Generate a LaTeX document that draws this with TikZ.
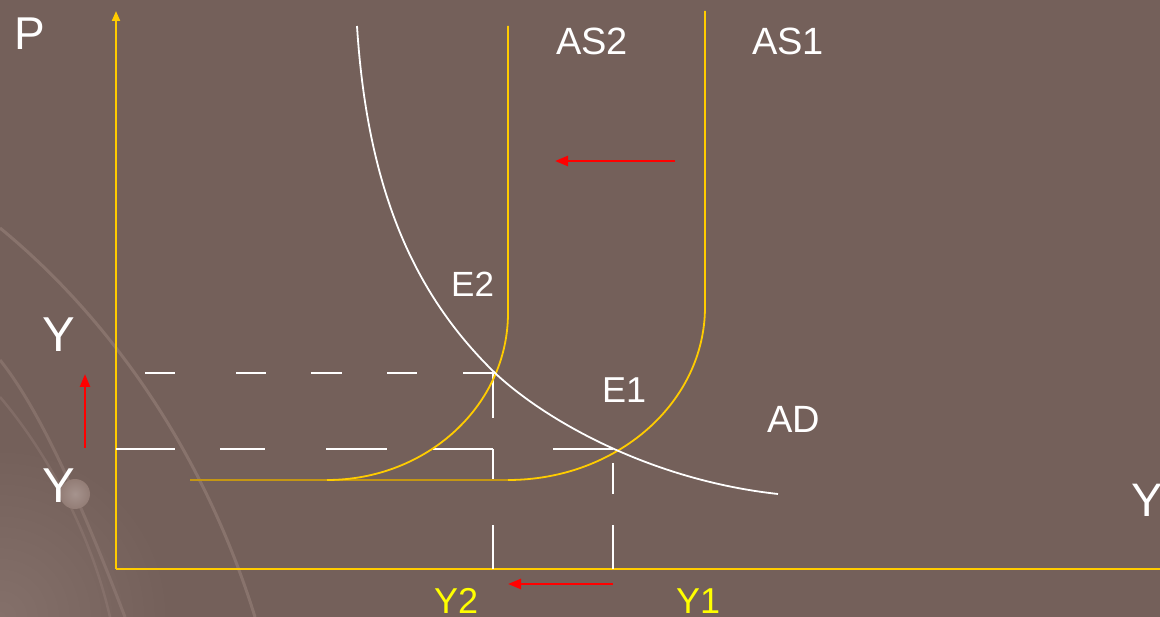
\documentclass[tikz,border=0pt]{standalone}
\usepackage{fontspec}
\setmainfont{Liberation Sans}
\usetikzlibrary{arrows.meta}
\definecolor{bgbrown}{RGB}{116,96,90}
\definecolor{asgold}{RGB}{255,204,0}
\definecolor{darkgold}{RGB}{196,150,20}
\definecolor{streak}{RGB}{150,128,121}
\definecolor{corner}{RGB}{132,112,106}
\definecolor{labelyellow}{RGB}{255,255,0}
\tikzset{
  axis/.style={asgold,line width=2pt},
  ascurve/.style={asgold,line width=1.8pt},
  guide/.style={white,line width=2pt},
  redarrow/.style={red,line width=2.4pt,-{Triangle[length=13pt,width=10pt]}},
  lbl/.style={white,inner sep=0pt,anchor=base west},
}
\begin{document}
\begin{tikzpicture}[x=1pt,y=-1pt]
  % background
  \fill[bgbrown] (0,0) rectangle (1160,617);
  \useasboundingbox (0,0) rectangle (1160,617);
  \shade[inner color=corner,outer color=bgbrown] (0,617) circle[radius=170];
  \draw[streak,line width=3pt,opacity=.6] (0,228) .. controls (100,310) and (200,440) .. (255,617);
  \draw[streak,line width=3pt,opacity=.5] (0,360) .. controls (40,410) and (80,500) .. (125,617);
  \draw[streak,line width=2.5pt,opacity=.4] (0,397) .. controls (45,450) and (90,530) .. (110,617);
  \shade[inner color=streak!85!white,outer color=streak!90!bgbrown] (75,494) circle[radius=15];
  % axes
  \coordinate (O) at (116,569);
  \coordinate (ptop) at (116,11);
  \coordinate (yend) at (1160,569);
  \draw[axis,-{Triangle[length=10pt,width=8pt]}] (O) -- (ptop);
  \draw[axis] (O) -- (yend);
  % dashed guides
  \foreach \a/\b in {145/175,236/266,311/342,387/417,463/493}
    \draw[guide] (\a,373) -- (\b,373);
  \foreach \a/\b in {116/175,220/265,326/387,433/493,553/613}
    \draw[guide] (\a,449) -- (\b,449);
  \foreach \a/\b in {373/418,449/480,525/569}
    \draw[guide] (493,\a) -- (493,\b);
  \foreach \a/\b in {463/494,525/569}
    \draw[guide] (613,\a) -- (613,\b);
  % supply curves
  \draw[darkgold,line width=1.8pt] (190,480) -- (508,480);
  \draw[ascurve] (508,26) -- (508,313) arc[start angle=0,end angle=90,x radius=181,y radius=167];
  \draw[ascurve] (705,11) -- (705,307) arc[start angle=0,end angle=90,x radius=197,y radius=173];
  % demand curve
  \coordinate (e2) at (495,373);
  \draw[white,line width=1.8pt] (357,26) .. controls (368,200) and (420,300) .. (e2)
    .. controls (545,420) and (650,480) .. (778,494);
  % shift arrows
  \coordinate (as1from) at (675,161);
  \coordinate (as2to) at (555,161);
  \draw[redarrow] (as1from) -- (as2to);
  \coordinate (plow) at (85,448);
  \coordinate (phigh) at (85,374);
  \draw[redarrow] (plow) -- (phigh);
  \coordinate (yone) at (613,584);
  \coordinate (ytwo) at (508,584);
  \draw[redarrow] (yone) -- (ytwo);
  % labels
  \node[lbl,font=\fontsize{46}{48}\selectfont] (P) at (14,50) {P};
  \node[lbl,font=\fontsize{38}{40}\selectfont] (AS2) at (556,55) {AS2};
  \node[lbl,font=\fontsize{38}{40}\selectfont] (AS1) at (752,55) {AS1};
  \node[lbl,font=\fontsize{35}{37}\selectfont] (E2) at (451,297) {E2};
  \node[lbl,font=\fontsize{36}{38}\selectfont] (E1) at (602,403) {E1};
  \node[lbl,font=\fontsize{38}{40}\selectfont] (AD) at (767,433) {AD};
  \node[lbl,font=\fontsize{49}{51}\selectfont] (Ptwo) at (42,352) {Y};
  \node[lbl,font=\fontsize{49}{51}\selectfont] (Pone) at (42,503) {Y};
  \node[lbl,font=\fontsize{47}{49}\selectfont] (Yax) at (1131,517) {Y};
  \node[lbl,labelyellow,font=\fontsize{36}{38}\selectfont] (Y2) at (434,613) {Y2};
  \node[lbl,labelyellow,font=\fontsize{36}{38}\selectfont] (Y1) at (676,613) {Y1};
\end{tikzpicture}
\end{document}
